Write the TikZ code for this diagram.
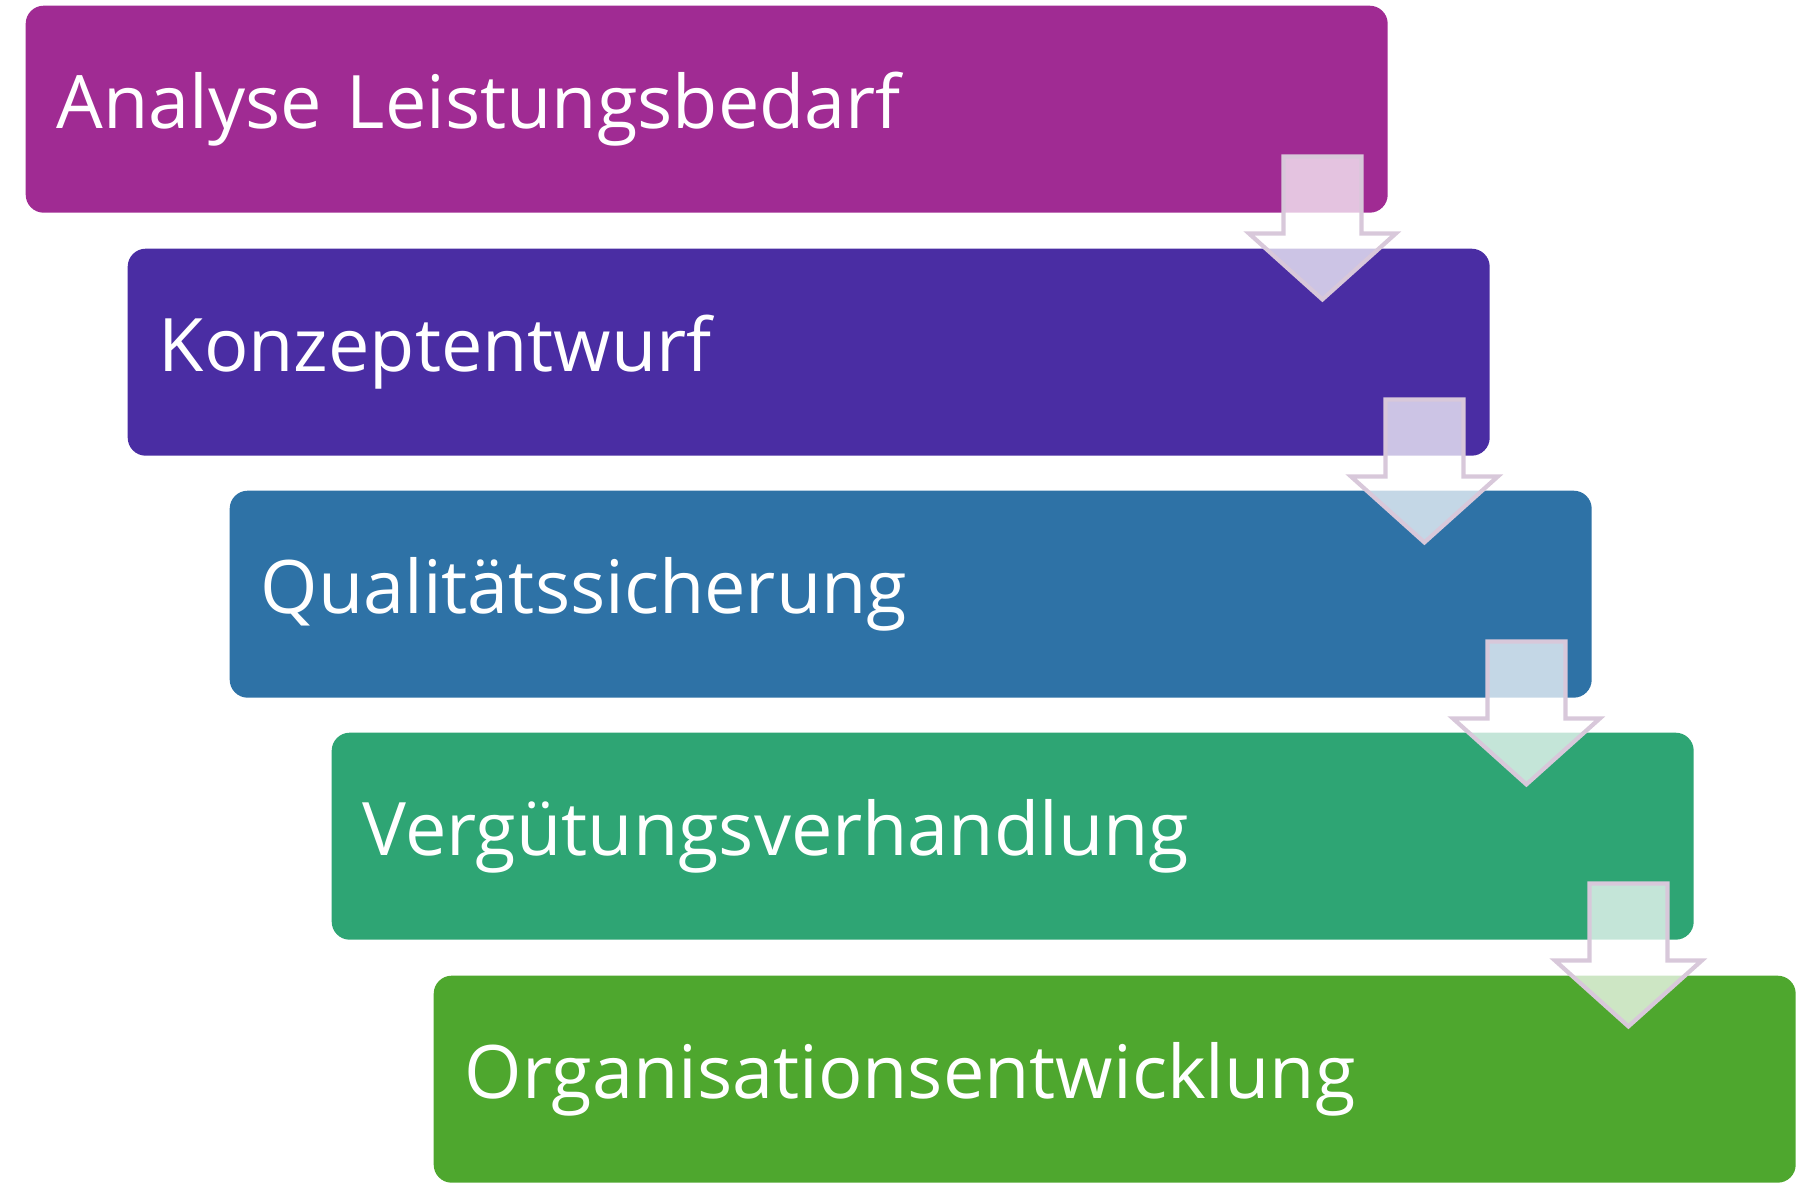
\documentclass[tikz,border=0pt]{standalone}
\usepackage{fontspec}
\setmainfont{Open Sans}
\usetikzlibrary{positioning,calc}
\definecolor{AnaCol}{HTML}{A02B93}
\definecolor{KonCol}{HTML}{4A2DA3}
\definecolor{QuaCol}{HTML}{2E72A6}
\definecolor{VerCol}{HTML}{2EA574}
\definecolor{OrgCol}{HTML}{4EA72E}
\definecolor{ArrCol}{HTML}{D8C8DA}
\tikzset{
  stage box/.style={
    shape = rectangle,
    rounded corners=.18cm,
    fill = #1,
    minimum width=13.62cm,
    minimum height=2.07cm,
    text width=13.0cm,
    align=left,
    text=white,
    font=\fontsize{21}{25}\selectfont,
    anchor=north west,
    },
  down arrow/.style={
    fill=white, fill opacity=.72,
    draw=ArrCol, line width=1.2pt,
    },
}
\newcommand{\downarr}[1]{%
  \path[down arrow] ($(#1.south east)+(-.66,.57)$) coordinate (t)
    ++(-.39,0) -- ++(0,-.77) -- ++(-.345,0) -- ++(.735,-.66)
    -- ++(.735,.66) -- ++(-.345,0) -- ++(0,.77) -- cycle;}

\begin{document}
\begin{tikzpicture}
    \useasboundingbox (0,0) rectangle (18,-11.87);

    \node[stage box=AnaCol] (ana) at (.25,-.05) {Analyse Leistungsbedarf};
    \node[stage box=KonCol] (kon) at (1.27,-2.48) {Konzeptentwurf};
    \node[stage box=QuaCol] (qua) at (2.29,-4.90) {Qualitätssicherung};
    \node[stage box=VerCol] (ver) at (3.31,-7.32) {Vergütungsverhandlung};
    \node[stage box=OrgCol] (org) at (4.33,-9.75) {Organisationsentwicklung};

    % Steps
    \downarr{ana}
    \downarr{kon}
    \downarr{qua}
    \downarr{ver}

\end{tikzpicture}
\end{document}
